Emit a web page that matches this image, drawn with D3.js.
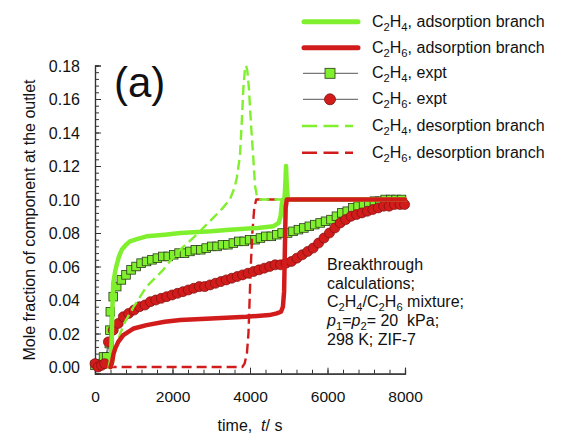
<!DOCTYPE html>
<html><head><meta charset="utf-8">
<script src="https://cdn.jsdelivr.net/npm/d3@7"></script>
<style>
body{margin:0;background:#fff}
svg{display:block}
text{font-family:"Liberation Sans",Arial,Helvetica,sans-serif;fill:#111}
</style>
</head><body>
<svg id="c" width="566" height="434"></svg>
<script>
// ---------- data ----------
const xTickValues=[0,2000,4000,6000,8000];
const yTickValues=[0,0.02,0.04,0.06,0.08,0.10,0.12,0.14,0.16,0.18];
const xMinorStep=400, yMinorStep=0.004;

const c2h4Adsorption=[[380,0],[410,0.004],[430,0.015],[450,0.035],[470,0.05],[520,0.057],[560,0.061],[620,0.066],[690,0.07],[800,0.073],[900,0.075],[1100,0.0765],[1330,0.078],[1800,0.079],[2200,0.08],[3000,0.081],[3480,0.082],[4200,0.083],[4600,0.084],[4740,0.086],[4790,0.09],[4825,0.098],[4860,0.1],[4890,0.101],[4910,0.108],[4930,0.12],[4950,0.108],[4975,0.101],[5000,0.1],[8000,0.1]];
const c2h6Adsorption=[[400,0],[440,0.003],[480,0.008],[520,0.011],[600,0.015],[730,0.019],[1000,0.023],[1330,0.025],[1800,0.027],[2200,0.028],[3000,0.029],[3900,0.03],[4500,0.031],[4690,0.032],[4800,0.033],[4850,0.036],[4880,0.045],[4900,0.07],[4920,0.095],[4950,0.1],[8000,0.1]];
const c2h4Desorption=[[450,0],[480,0.005],[550,0.012],[650,0.02],[800,0.028],[1000,0.036],[1330,0.048],[1760,0.058],[2000,0.065],[2200,0.07],[2620,0.079],[3050,0.089],[3300,0.095],[3480,0.1],[3600,0.107],[3660,0.113],[3740,0.126],[3785,0.145],[3830,0.167],[3870,0.178],[3900,0.18],[3930,0.177],[3970,0.167],[4000,0.155],[4040,0.14],[4085,0.125],[4130,0.108],[4180,0.102],[4250,0.1],[8000,0.1]];
const c2h6Desorption=[[300,0],[3800,0],[3860,0.002],[3920,0.008],[3960,0.02],[3990,0.04],[4020,0.06],[4060,0.08],[4110,0.095],[4160,0.1],[8000,0.1]];

const c2h4Expt=[[0,0.001],[120,0.002],[220,0.006],[300,0.006],[370,0.014],[385,0.022],[395,0.033],[470,0.042],[560,0.048],[680,0.052],[800,0.055],[930,0.058],[1060,0.06],[1190,0.062],[1330,0.063],[1470,0.064],[1610,0.065],[1750,0.066],[1890,0.066],[2030,0.067],[2170,0.068],[2310,0.068],[2450,0.069],[2590,0.07],[2730,0.07],[2870,0.071],[3010,0.072],[3150,0.072],[3290,0.073],[3430,0.073],[3570,0.074],[3710,0.075],[3850,0.075],[3990,0.076],[4130,0.076],[4270,0.077],[4410,0.078],[4550,0.078],[4690,0.079],[4830,0.08],[4970,0.08],[5110,0.081],[5250,0.082],[5390,0.083],[5530,0.084],[5670,0.085],[5810,0.086],[5950,0.087],[6090,0.088],[6230,0.09],[6370,0.092],[6510,0.093],[6650,0.095],[6790,0.096],[6930,0.097],[7070,0.098],[7210,0.099],[7350,0.099],[7490,0.1],[7630,0.1],[7770,0.1],[7910,0.1]];
const c2h6Expt=[[0,0.002],[80,0],[170,0.001],[250,0.002],[345,0.015],[470,0.022],[600,0.026],[730,0.03],[870,0.032],[1010,0.034],[1150,0.036],[1290,0.037],[1430,0.039],[1570,0.04],[1710,0.041],[1850,0.042],[1990,0.043],[2130,0.044],[2270,0.045],[2410,0.046],[2550,0.047],[2690,0.048],[2830,0.048],[2970,0.049],[3110,0.05],[3250,0.051],[3390,0.052],[3530,0.053],[3670,0.054],[3810,0.055],[3950,0.056],[4090,0.057],[4230,0.058],[4370,0.059],[4510,0.06],[4650,0.061],[4790,0.061],[4930,0.062],[5070,0.063],[5210,0.065],[5350,0.067],[5490,0.069],[5630,0.071],[5770,0.074],[5910,0.077],[6050,0.08],[6190,0.083],[6330,0.086],[6470,0.088],[6610,0.09],[6750,0.091],[6890,0.092],[7030,0.093],[7170,0.094],[7310,0.095],[7450,0.096],[7590,0.096],[7730,0.097],[7870,0.097],[7990,0.097]];

const legendItems=[
  {f:"C2H4",rest:", adsorption branch",type:"solid",color:"green"},
  {f:"C2H6",rest:", adsorption branch",type:"solid",color:"red"},
  {f:"C2H4",rest:", expt",type:"square",color:"green"},
  {f:"C2H6",rest:". expt",type:"circle",color:"red"},
  {f:"C2H4",rest:", desorption branch",type:"dash",color:"green"},
  {f:"C2H6",rest:", desorption branch",type:"dash",color:"red"}
];
const noteLines=["Breakthrough","calculations;","MIX","PP","298 K; ZIF-7"];

// ---------- drawing ----------
const GREEN="#80f02e", RED="#d21c1c";
const col={green:GREEN,red:RED};
const svg=d3.select("#c");
const x=d3.scaleLinear().domain([0,8000]).range([95,405]);
const y=d3.scaleLinear().domain([-0.004,0.18]).range([373.7,65.5]);

// axes
const gx=svg.append("g").attr("transform",`translate(0,${y(-0.004)})`);
gx.call(d3.axisBottom(x).tickValues(d3.range(0,8001,xMinorStep)).tickSize(-4).tickFormat(""));
const gxM=svg.append("g").attr("transform",`translate(0,${y(-0.004)})`);
gxM.call(d3.axisBottom(x).tickValues(xTickValues).tickSize(-6).tickPadding(17).tickFormat(d3.format("d")));
const gy=svg.append("g").attr("transform",`translate(${x(0)},0)`);
gy.call(d3.axisLeft(y).tickValues(d3.range(0,0.1801,yMinorStep)).tickSize(-4).tickFormat(""));
const gyM=svg.append("g").attr("transform",`translate(${x(0)},0)`);
gyM.call(d3.axisLeft(y).tickValues(yTickValues).tickSize(-6).tickPadding(15).tickFormat(d3.format(".2f")));
svg.selectAll(".domain").attr("stroke","#333").attr("stroke-width",1.2);
svg.selectAll(".tick line").attr("stroke","#333").attr("stroke-width",1);
gxM.selectAll("text").attr("font-size",15.5).attr("font-family","Liberation Sans, Arial, sans-serif").attr("fill","#111");
gyM.selectAll("text").attr("font-size",16).attr("font-family","Liberation Sans, Arial, sans-serif").attr("fill","#111").attr("dy","0.36em");

const line=d3.line().x(d=>x(d[0])).y(d=>y(d[1]));

// experimental
svg.append("path").attr("d",line(c2h4Expt)).attr("fill","none").attr("stroke","#444").attr("stroke-width",0.8);
svg.append("path").attr("d",line(c2h6Expt)).attr("fill","none").attr("stroke","#444").attr("stroke-width",0.8);
svg.append("g").selectAll("rect").data(c2h4Expt).join("rect")
  .attr("x",d=>x(d[0])-4.3).attr("y",d=>y(d[1])-4.3).attr("width",8.6).attr("height",8.6)
  .attr("fill",GREEN).attr("stroke","#2a3a1a").attr("stroke-width",0.8);
svg.append("g").selectAll("circle").data(c2h6Expt).join("circle")
  .attr("cx",d=>x(d[0])).attr("cy",d=>y(d[1])).attr("r",5)
  .attr("fill",RED).attr("stroke","#7a1010").attr("stroke-width",0.7);

// model curves
function curve(data,color,w,dash){
  const p=svg.append("path").attr("d",line(data)).attr("fill","none").attr("stroke",color)
    .attr("stroke-width",w).attr("stroke-linejoin","round").attr("stroke-linecap",dash?"butt":"round");
  if(dash) p.attr("stroke-dasharray",dash);
}
curve(c2h6Desorption,RED,2.4,"10,5");
curve(c2h4Desorption,GREEN,2.4,"10,5");
curve(c2h4Adsorption,GREEN,4.5);
curve(c2h6Adsorption,RED,4.5);

// rich text helper: segments [{s, sub, it}]
const SUB=4;
function rich(t,segs,fs){
  let cur=0;
  segs.forEach(sg=>{
    const target=sg.sub?SUB:0;
    const ts=t.append("tspan").attr("dy",target-cur).attr("font-size",sg.sub?fs*0.7:fs).text(sg.s);
    if(sg.it) ts.attr("font-style","italic");
    cur=target;
  });
}
function chemSegs(formula){
  return formula.match(/[A-Z][a-z]?|\d+/g).map(p=>({s:p,sub:/\d/.test(p)}));
}

// legend
const lgY=[21.7,47.7,73.3,99.3,126,152.7];
legendItems.forEach((it,i)=>{
  const yy=lgY[i];
  const g=svg.append("g");
  if(it.type==="solid"){
    g.append("line").attr("x1",304).attr("x2",358).attr("y1",yy).attr("y2",yy).attr("stroke",col[it.color]).attr("stroke-width",5).attr("stroke-linecap","round");
  } else if(it.type==="dash"){
    g.append("line").attr("x1",302).attr("x2",353).attr("y1",yy).attr("y2",yy).attr("stroke",col[it.color]).attr("stroke-width",2.6).attr("stroke-dasharray","15,6.5");
  } else {
    g.append("line").attr("x1",303).attr("x2",358).attr("y1",yy).attr("y2",yy).attr("stroke","#555").attr("stroke-width",1);
    if(it.type==="square") g.append("rect").attr("x",330-5).attr("y",yy-5).attr("width",10).attr("height",10).attr("fill",GREEN).attr("stroke","#2a3a1a").attr("stroke-width",0.8);
    else g.append("circle").attr("cx",330).attr("cy",yy).attr("r",5.5).attr("fill",RED).attr("stroke","#7a1010").attr("stroke-width",0.8);
  }
  const t=g.append("text").attr("x",372).attr("y",yy+5).attr("font-size",16);
  rich(t,chemSegs(it.f).concat([{s:it.rest}]),16);
});

// (a)
svg.append("text").attr("x",114).attr("y",97).attr("font-size",42).text("(a)");

// note
const nx=327, nb=[270,288.6,307.3,326,344.7];
noteLines.forEach((s,i)=>{
  const t=svg.append("text").attr("x",nx).attr("y",nb[i]).attr("font-size",16);
  if(s==="MIX"){
    rich(t,chemSegs("C2H4").concat([{s:"/"}],chemSegs("C2H6"),[{s:" mixture;"}]),16);
  } else if(s==="PP"){
    rich(t,[{s:"p",it:true},{s:"1",sub:true},{s:"="},{s:"p",it:true},{s:"2",sub:true},{s:"= 20\u00a0\u00a0kPa;"}],16);
  } else t.text(s);
});

// axis titles
const xt=svg.append("text").attr("x",250).attr("y",431).attr("text-anchor","middle").attr("font-size",16);
rich(xt,[{s:"time,\u00a0\u00a0"},{s:"t",it:true},{s:"/ s"}],16);
svg.append("text").attr("transform","translate(34.5,220) rotate(-90)").attr("text-anchor","middle").attr("font-size",16)
  .text("Mole fraction of component at the outlet");
</script>
</body></html>
